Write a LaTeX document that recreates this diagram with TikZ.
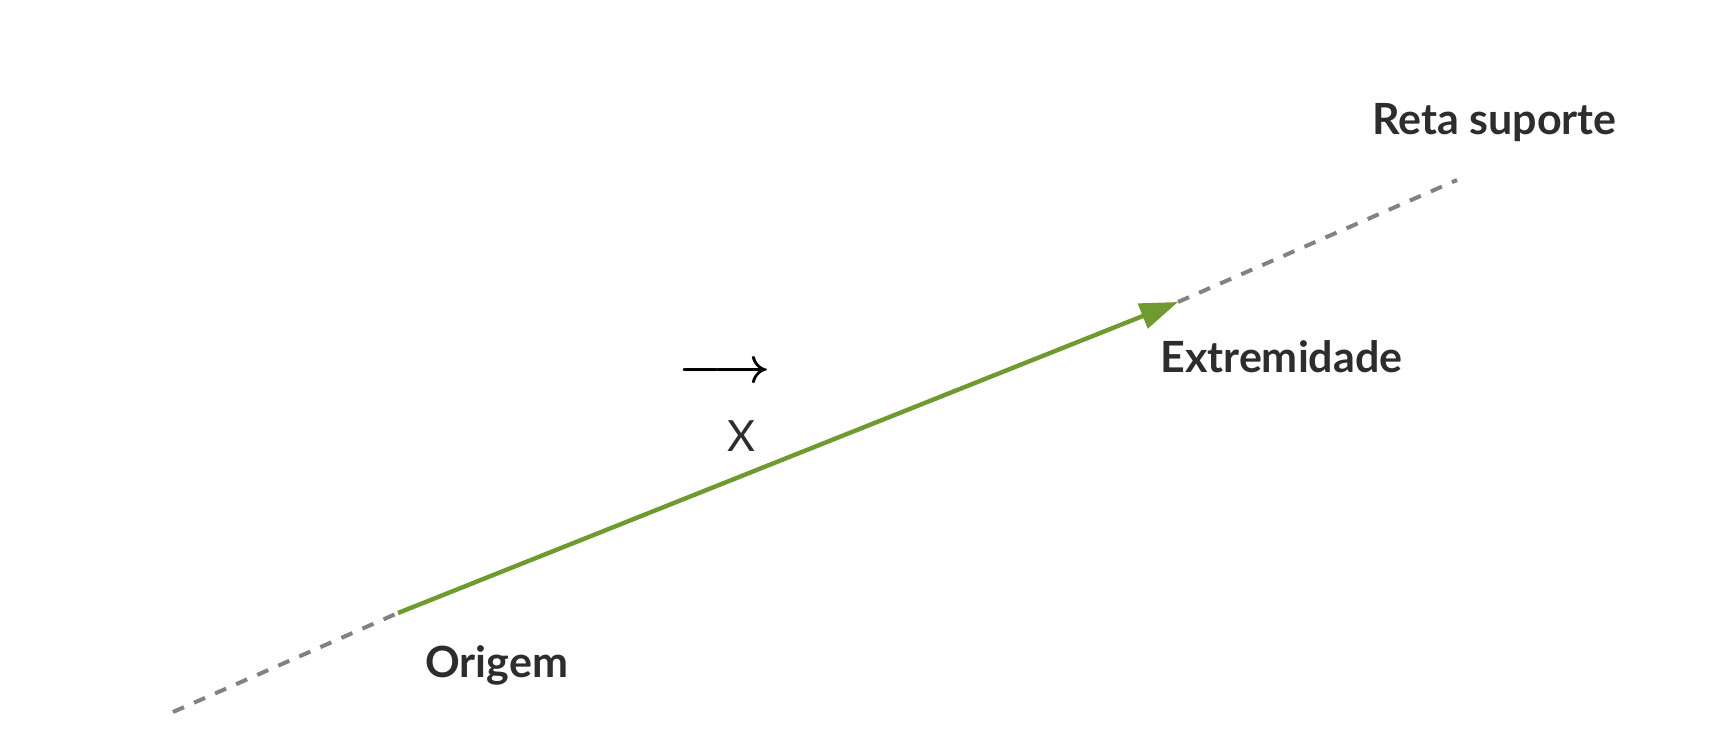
\documentclass[tikz,border=0pt]{standalone}
\usepackage{fontspec}
\setmainfont{Lato}
\usetikzlibrary{arrows.meta}
\definecolor{vecgreen}{RGB}{110,154,48}
\definecolor{txtgray}{RGB}{45,45,45}
\definecolor{dashgray}{RGB}{130,130,130}
\tikzset{
  lbl/.style={inner sep=0pt, text=txtgray, font=\fontsize{21.5}{24}\selectfont\bfseries},
  support/.style={draw=dashgray, line width=2pt, dash pattern=on 6pt off 5.5pt},
  vec/.style={draw=vecgreen, line width=2.2pt, -{Triangle[length=19pt,width=13pt]}}
}
\begin{document}
\begin{tikzpicture}[x=0.5pt,y=-0.5pt]
\useasboundingbox[fill=white] (0,0) rectangle (1714,737);
\coordinate (A) at (173,712);
\coordinate (O) at (398,613);
\coordinate (E) at (1178,302);
\coordinate (B) at (1457,180);
\draw[support] (A) -- (O);
\draw[support] (E) -- (B);
\draw[vec] (O) -- (E);
\node[lbl, anchor=base west] (reta) at (1372,135) {Reta suporte};
\node[lbl, anchor=base west] (ext) at (1160,373) {Extremidade};
\node[lbl, anchor=base west] (orig) at (425,677) {Origem};
\node[inner sep=0pt, text=black, font=\fontsize{27}{28}\selectfont\boldmath] (arr) at (725,373) {$\longrightarrow$};
\node[inner sep=0pt, anchor=base, text=txtgray, font=\fontsize{21.5}{24}\selectfont] (x) at (741,452) {X};
\end{tikzpicture}
\end{document}
